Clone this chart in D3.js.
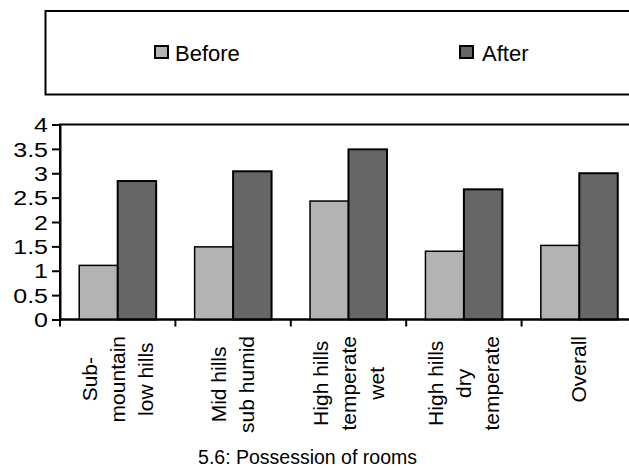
<!DOCTYPE html>
<html>
<head>
<meta charset="utf-8">
<script src="https://cdn.jsdelivr.net/npm/d3@7"></script>
<style>
  html, body { margin: 0; padding: 0; background: #fff; }
  svg { display: block; font-family: "Liberation Sans", Arial, sans-serif; }
</style>
</head>
<body>
<svg id="chart" width="629" height="468"></svg>
<script>
// Average number of rooms per household, by agro-climatic zone
const categories = [
  ["Sub-", "mountain", "low hills"],
  ["Mid hills", "sub humid"],
  ["High hills", "temperate", "wet"],
  ["High hills", "dry", "temperate"],
  ["Overall"]
];
const seriesNames = ["Before", "After"];
const before = [1.11, 1.49, 2.43, 1.40, 1.52];
const after = [2.84, 3.04, 3.49, 2.67, 3.00];
const yTicks = [0, 0.5, 1, 1.5, 2, 2.5, 3, 3.5, 4];
const yTickLabels = ["0", "0.5", "1", "1.5", "2", "2.5", "3", "3.5", "4"];
const caption = "5.6: Possession of rooms";

const colors = { Before: "#b3b3b3", After: "#666666" };

const svg = d3.select("#chart");

// plot area (the right edge runs past the visible frame)
const plot = { left: 60, right: 637, top: 124.5, bottom: 319.5 };

const keys = categories.map((c, i) => "c" + i);
const x0 = d3.scaleBand().domain(keys).range([plot.left, plot.right]).paddingInner(0).paddingOuter(0);
const bw = x0.bandwidth();
const x1 = d3.scaleBand().domain(seriesNames).range([bw / 6, bw * 5 / 6]).padding(0);
const y = d3.scaleLinear().domain([0, 4]).range([plot.bottom, plot.top]);

// legend box
svg.append("rect")
  .attr("x", 45.5).attr("y", 11).attr("width", 640).attr("height", 83.5)
  .attr("fill", "#fff").attr("stroke", "#000").attr("stroke-width", 2);

const legendItems = [
  { name: "Before", sx: 155, tx: 175 },
  { name: "After", sx: 460, tx: 482 }
];
const lg = svg.append("g");
lg.selectAll("rect").data(legendItems).join("rect")
  .attr("x", d => d.sx).attr("y", 46)
  .attr("width", 13).attr("height", 12)
  .attr("fill", d => colors[d.name])
  .attr("stroke", "#000").attr("stroke-width", 2);
lg.selectAll("text").data(legendItems).join("text")
  .attr("x", d => d.tx).attr("y", 61)
  .attr("font-size", 22)
  .attr("fill", "#000")
  .text(d => d.name);

// plot frame
svg.append("rect")
  .attr("x", plot.left).attr("y", plot.top)
  .attr("width", plot.right - plot.left).attr("height", plot.bottom - plot.top)
  .attr("fill", "none").attr("stroke", "#000").attr("stroke-width", 2);

// bars
const rows = categories.map((c, i) => ({ key: keys[i], Before: before[i], After: after[i] }));
const groups = svg.append("g").selectAll("g").data(rows).join("g")
  .attr("transform", d => `translate(${x0(d.key)},0)`);
groups.selectAll("rect")
  .data(d => seriesNames.map(s => ({ s, v: d[s] })))
  .join("rect")
  .attr("x", d => x1(d.s))
  .attr("y", d => y(d.v))
  .attr("width", x1.bandwidth())
  .attr("height", d => y(0) - y(d.v))
  .attr("fill", d => colors[d.s])
  .attr("stroke", "#000")
  .attr("stroke-width", d => d.s === "After" ? 2 : 1.5);

// y axis
const yAxis = d3.axisLeft(y)
  .tickValues(yTicks)
  .tickFormat((d, i) => yTickLabels[i])
  .tickSize(8)
  .tickPadding(4);
const yg = svg.append("g").attr("transform", `translate(${plot.left},0)`).call(yAxis);
yg.select(".domain").attr("stroke", "#000").attr("stroke-width", 2);
yg.selectAll(".tick line").attr("stroke", "#000").attr("stroke-width", 2);
yg.selectAll(".tick text")
  .attr("font-size", 20)
  .attr("font-family", "Liberation Sans, Arial, sans-serif")
  .attr("fill", "#000")
  .attr("dy", "0.36em")
  .each(function () {
    const t = d3.select(this);
    const xx = +t.attr("x");
    t.attr("x", null).attr("transform", `translate(${xx},0) scale(1.25,1)`);
  });

// x axis with ticks at category boundaries
const boundaries = keys.map(k => x0(k)).concat([plot.right]);
const xg = svg.append("g");
xg.append("line")
  .attr("x1", plot.left).attr("x2", plot.right)
  .attr("y1", plot.bottom).attr("y2", plot.bottom)
  .attr("stroke", "#000").attr("stroke-width", 2);
xg.selectAll("line.tk").data(boundaries).join("line")
  .attr("class", "tk")
  .attr("x1", d => d).attr("x2", d => d)
  .attr("y1", plot.bottom).attr("y2", plot.bottom + 7)
  .attr("stroke", "#000").attr("stroke-width", 2);

// rotated multi-line category labels
const lineGap = 28;
const labelTop = 336;
const labels = svg.append("g").attr("font-size", 21).attr("fill", "#000");
categories.forEach((lines, i) => {
  const cx = x0(keys[i]) + bw / 2;
  const n = lines.length;
  const g = labels.append("g");
  const texts = g.selectAll("text").data(lines).join("text")
    .attr("text-anchor", "middle")
    .text(d => d);
  const maxLen = d3.max(texts.nodes(), nd => nd.getComputedTextLength());
  const cy = labelTop + maxLen / 2;
  texts.attr("transform", (d, j) => {
    // visual centre of each line, spread across the category width
    const lx = cx + (j - (n - 1) / 2) * lineGap + 7;
    return `translate(${lx},${cy}) rotate(-90)`;
  });
});

// caption
svg.append("text")
  .attr("x", 307.5).attr("y", 464)
  .attr("text-anchor", "middle")
  .attr("font-size", 19.5)
  .attr("fill", "#000")
  .text(caption);
</script>
</body>
</html>
